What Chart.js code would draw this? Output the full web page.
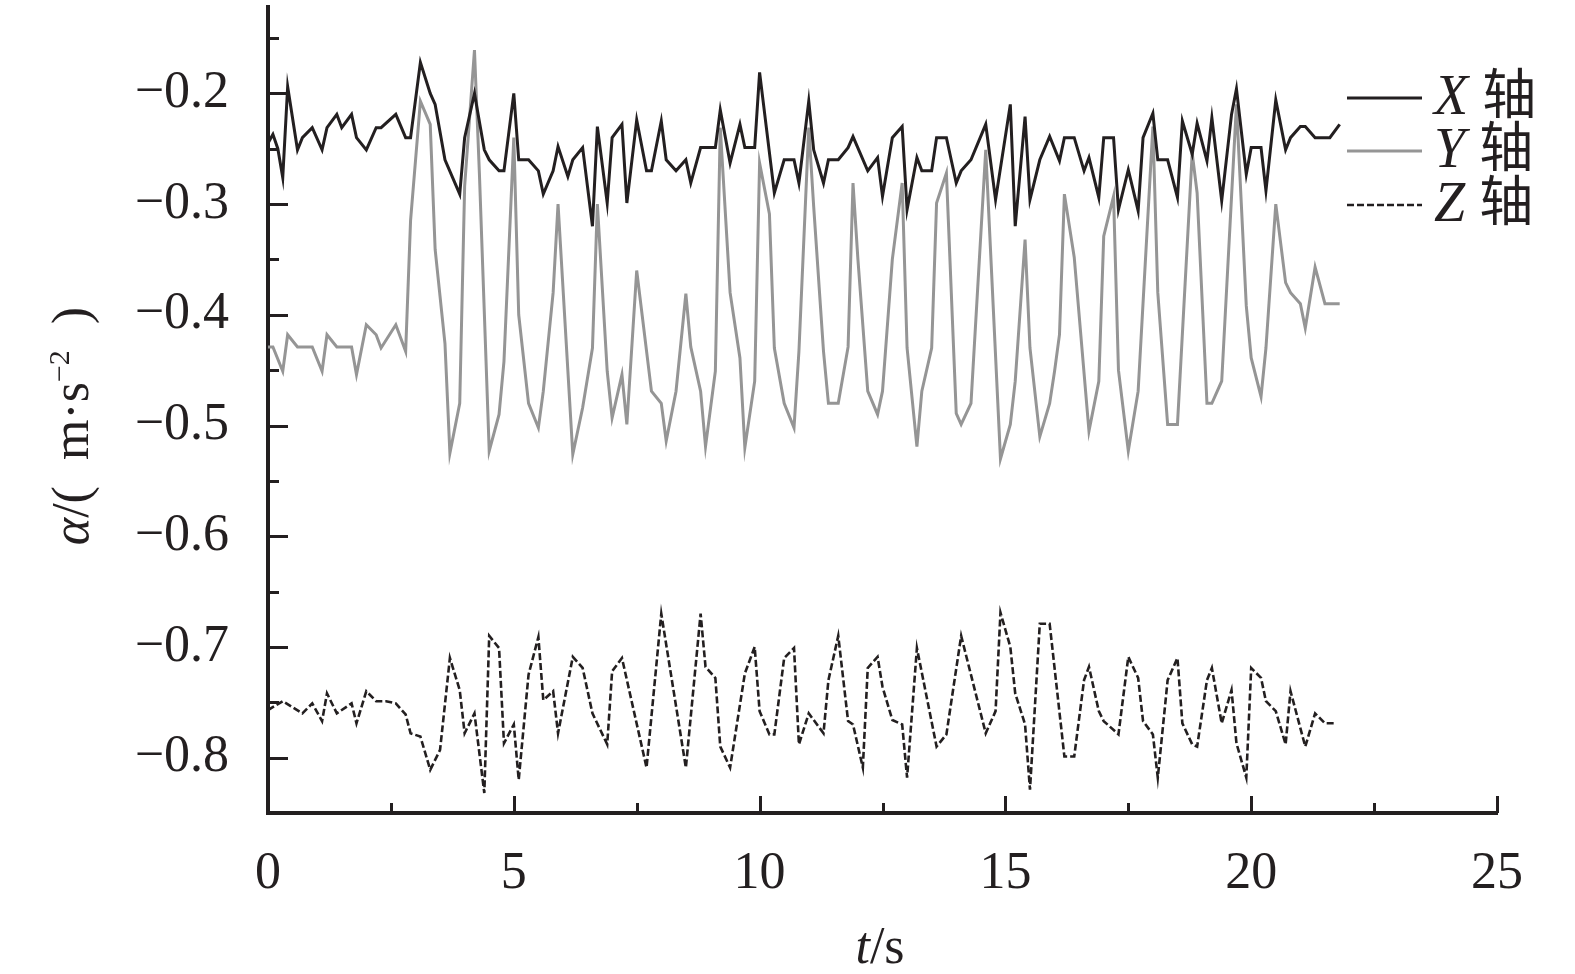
<!DOCTYPE html>
<html>
<head>
<meta charset="utf-8">
<script src="https://cdn.jsdelivr.net/npm/chart.js@4.4.1/dist/chart.umd.min.js"></script>
<style>
  html, body { margin: 0; padding: 0; background: #fff; }
</style>
</head>
<body>
<canvas id="chartAccel" width="1575" height="974"></canvas>
<script>
const ink = '#231f20';
const grey = '#959595';
const serif = "'Liberation Serif', 'DejaVu Serif', serif";

// [t (s), a (m/s^2)]
const xAxisData = [[0,-0.245],[0.1,-0.237],[0.2,-0.25],[0.3,-0.276],[0.4,-0.194],[0.6,-0.251],[0.7,-0.24],[0.9,-0.231],[1.1,-0.251],[1.2,-0.231],[1.4,-0.219],[1.5,-0.231],[1.7,-0.219],[1.8,-0.24],[2.0,-0.251],[2.2,-0.231],[2.3,-0.231],[2.6,-0.219],[2.8,-0.24],[2.9,-0.24],[3.1,-0.172],[3.3,-0.2],[3.4,-0.21],[3.6,-0.26],[3.9,-0.291],[4.0,-0.24],[4.2,-0.2],[4.4,-0.251],[4.5,-0.26],[4.7,-0.27],[4.8,-0.27],[5.0,-0.2],[5.1,-0.26],[5.3,-0.26],[5.5,-0.27],[5.6,-0.291],[5.8,-0.27],[5.9,-0.248],[6.1,-0.275],[6.2,-0.26],[6.4,-0.249],[6.6,-0.32],[6.7,-0.23],[6.9,-0.299],[7.0,-0.24],[7.2,-0.228],[7.3,-0.299],[7.5,-0.224],[7.7,-0.27],[7.8,-0.27],[8.0,-0.225],[8.1,-0.26],[8.3,-0.27],[8.5,-0.26],[8.6,-0.281],[8.8,-0.249],[9.1,-0.249],[9.2,-0.215],[9.4,-0.263],[9.6,-0.228],[9.7,-0.249],[9.9,-0.249],[10.0,-0.181],[10.3,-0.29],[10.5,-0.26],[10.7,-0.26],[10.8,-0.281],[11.0,-0.207],[11.1,-0.251],[11.3,-0.281],[11.4,-0.26],[11.6,-0.26],[11.8,-0.249],[11.9,-0.239],[12.2,-0.27],[12.4,-0.258],[12.5,-0.293],[12.7,-0.24],[12.9,-0.23],[13.0,-0.305],[13.2,-0.258],[13.3,-0.27],[13.5,-0.27],[13.6,-0.24],[13.8,-0.24],[14.0,-0.281],[14.1,-0.27],[14.3,-0.26],[14.6,-0.228],[14.8,-0.296],[15.1,-0.21],[15.2,-0.32],[15.4,-0.221],[15.5,-0.296],[15.7,-0.26],[15.9,-0.239],[16.1,-0.261],[16.2,-0.24],[16.4,-0.24],[16.6,-0.27],[16.7,-0.258],[16.9,-0.294],[17.0,-0.24],[17.2,-0.24],[17.3,-0.305],[17.5,-0.269],[17.7,-0.306],[17.8,-0.24],[18.0,-0.218],[18.1,-0.26],[18.3,-0.26],[18.5,-0.294],[18.6,-0.225],[18.8,-0.255],[18.9,-0.227],[19.1,-0.261],[19.2,-0.222],[19.4,-0.297],[19.6,-0.219],[19.7,-0.196],[19.9,-0.273],[20.0,-0.249],[20.2,-0.249],[20.3,-0.288],[20.5,-0.206],[20.7,-0.251],[20.8,-0.24],[21.0,-0.23],[21.1,-0.23],[21.3,-0.24],[21.6,-0.24],[21.8,-0.228]];

const yAxisData = [[0,-0.429],[0.1,-0.429],[0.3,-0.451],[0.4,-0.418],[0.6,-0.429],[0.9,-0.429],[1.1,-0.451],[1.2,-0.418],[1.4,-0.429],[1.7,-0.429],[1.8,-0.454],[2.0,-0.409],[2.2,-0.418],[2.3,-0.43],[2.6,-0.409],[2.8,-0.433],[2.9,-0.315],[3.1,-0.207],[3.3,-0.228],[3.4,-0.341],[3.6,-0.426],[3.7,-0.525],[3.9,-0.48],[4.0,-0.284],[4.2,-0.161],[4.3,-0.272],[4.5,-0.523],[4.7,-0.49],[4.8,-0.442],[5.0,-0.24],[5.1,-0.4],[5.3,-0.48],[5.5,-0.502],[5.6,-0.469],[5.8,-0.38],[5.9,-0.3],[6.2,-0.526],[6.4,-0.484],[6.6,-0.43],[6.7,-0.3],[6.9,-0.451],[7.0,-0.493],[7.2,-0.454],[7.3,-0.499],[7.5,-0.36],[7.8,-0.469],[8.0,-0.48],[8.1,-0.514],[8.3,-0.469],[8.5,-0.381],[8.6,-0.429],[8.8,-0.469],[8.9,-0.519],[9.1,-0.451],[9.2,-0.231],[9.4,-0.38],[9.6,-0.439],[9.7,-0.52],[9.9,-0.46],[10.0,-0.263],[10.2,-0.309],[10.3,-0.43],[10.5,-0.48],[10.7,-0.502],[10.8,-0.433],[11.0,-0.231],[11.1,-0.302],[11.3,-0.433],[11.4,-0.48],[11.6,-0.48],[11.8,-0.429],[11.9,-0.281],[12.0,-0.35],[12.2,-0.469],[12.4,-0.49],[12.5,-0.469],[12.7,-0.35],[12.9,-0.281],[13.0,-0.43],[13.2,-0.519],[13.3,-0.469],[13.5,-0.43],[13.6,-0.299],[13.8,-0.272],[14.0,-0.489],[14.1,-0.499],[14.3,-0.48],[14.6,-0.251],[14.9,-0.53],[15.1,-0.499],[15.2,-0.46],[15.4,-0.332],[15.5,-0.43],[15.7,-0.51],[15.9,-0.48],[16.0,-0.451],[16.1,-0.418],[16.2,-0.291],[16.4,-0.348],[16.7,-0.505],[16.9,-0.46],[17.0,-0.329],[17.2,-0.293],[17.3,-0.45],[17.5,-0.523],[17.7,-0.469],[18.0,-0.23],[18.1,-0.38],[18.3,-0.499],[18.5,-0.499],[18.8,-0.254],[18.9,-0.29],[19.1,-0.48],[19.2,-0.48],[19.4,-0.46],[19.7,-0.21],[19.9,-0.392],[20.0,-0.439],[20.2,-0.474],[20.3,-0.43],[20.5,-0.3],[20.7,-0.371],[20.8,-0.38],[21.0,-0.39],[21.1,-0.412],[21.3,-0.357],[21.5,-0.39],[21.8,-0.39]];

const zAxisData = [[0,-0.757],[0.3,-0.749],[0.7,-0.76],[0.9,-0.751],[1.1,-0.767],[1.2,-0.742],[1.4,-0.76],[1.7,-0.751],[1.8,-0.769],[2.0,-0.74],[2.2,-0.749],[2.4,-0.749],[2.6,-0.751],[2.8,-0.761],[2.9,-0.778],[3.1,-0.781],[3.3,-0.811],[3.5,-0.793],[3.7,-0.71],[3.9,-0.739],[4.0,-0.778],[4.2,-0.76],[4.4,-0.832],[4.5,-0.69],[4.7,-0.701],[4.8,-0.787],[5.0,-0.77],[5.1,-0.82],[5.3,-0.725],[5.5,-0.691],[5.6,-0.748],[5.8,-0.74],[5.9,-0.778],[6.2,-0.709],[6.4,-0.719],[6.6,-0.76],[6.9,-0.788],[7.0,-0.722],[7.2,-0.71],[7.7,-0.809],[8.0,-0.67],[8.5,-0.809],[8.8,-0.67],[8.9,-0.718],[9.1,-0.728],[9.2,-0.79],[9.4,-0.809],[9.7,-0.724],[9.9,-0.7],[10.0,-0.758],[10.2,-0.779],[10.3,-0.779],[10.5,-0.71],[10.7,-0.701],[10.8,-0.788],[11.0,-0.76],[11.3,-0.778],[11.4,-0.73],[11.6,-0.69],[11.8,-0.767],[11.9,-0.77],[12.1,-0.809],[12.2,-0.719],[12.4,-0.709],[12.5,-0.736],[12.7,-0.766],[12.9,-0.77],[13.0,-0.818],[13.2,-0.701],[13.6,-0.79],[13.8,-0.779],[14.1,-0.69],[14.6,-0.778],[14.8,-0.758],[14.9,-0.669],[15.1,-0.7],[15.2,-0.742],[15.4,-0.77],[15.5,-0.829],[15.7,-0.679],[15.9,-0.679],[16.2,-0.799],[16.4,-0.799],[16.6,-0.73],[16.7,-0.718],[16.9,-0.758],[17.0,-0.767],[17.3,-0.779],[17.5,-0.709],[17.7,-0.728],[17.8,-0.767],[18.0,-0.779],[18.1,-0.818],[18.3,-0.73],[18.5,-0.71],[18.6,-0.769],[18.8,-0.788],[18.9,-0.79],[19.1,-0.73],[19.2,-0.719],[19.4,-0.769],[19.6,-0.739],[19.7,-0.787],[19.9,-0.818],[20.0,-0.719],[20.2,-0.728],[20.3,-0.749],[20.5,-0.758],[20.7,-0.788],[20.8,-0.74],[21.1,-0.79],[21.3,-0.76],[21.5,-0.769],[21.7,-0.769]];

const seriesNames = ['X', 'Y', 'Z'];
const yLabelTicks = [-0.8, -0.7, -0.6, -0.5, -0.4, -0.3, -0.2];
const yMarkTicks = [-0.8, -0.75, -0.7, -0.65, -0.6, -0.55, -0.5, -0.45, -0.4, -0.35, -0.3, -0.25, -0.2, -0.15];
const xMarkTicks = [2.5, 5, 7.5, 10, 12.5, 15, 17.5, 20, 22.5, 25];

const toPoints = rows => rows.map(([t, a]) => ({ x: t, y: a }));

// inward tick marks, axis titles and the legend drawn by hand
const axisDecor = {
    id: 'axisDecor',
    afterDraw(chart) {
        const { ctx, chartArea: area, scales: { x, y } } = chart;
        ctx.save();
        ctx.strokeStyle = ink;
        ctx.lineWidth = 3;
        ctx.beginPath();
        xMarkTicks.forEach(v => {
            const px = Math.round(x.getPixelForValue(v)) + 0.5;
            const len = v % 5 === 0 ? 17 : 10;
            ctx.moveTo(px, area.bottom);
            ctx.lineTo(px, area.bottom - len);
        });
        yMarkTicks.forEach(v => {
            const py = Math.round(y.getPixelForValue(v)) + 0.5;
            const len = Math.abs(Math.round(v * 100)) % 10 === 0 ? 20 : 11;
            ctx.moveTo(area.left, py);
            ctx.lineTo(area.left + len, py);
        });
        ctx.stroke();

        ctx.fillStyle = ink;
        ctx.textBaseline = 'alphabetic';

        // x title: t/s
        drawRun(ctx, [['italic 52px ' + serif, 't'], ['52px ' + serif, '/s']], 880, 963, 'center');

        // y title, rotated
        ctx.save();
        ctx.translate(88, 426);
        ctx.rotate(-Math.PI / 2);
        drawRun(ctx, [
            ['italic 52px ' + serif, 'α'],
            ['52px ' + serif, '/(  m·s'],
            ['30px ' + serif, '−2', -19],
            ['52px ' + serif, '  )']
        ], 0, 0, 'center');
        ctx.restore();

        // legend
        const rowsY = [98, 151, 205];
        chart.data.datasets.forEach((ds, i) => {
            const ly = rowsY[i];
            ctx.save();
            ctx.strokeStyle = ds.borderColor;
            ctx.lineWidth = ds.borderWidth;
            ctx.setLineDash(ds.borderDash || []);
            ctx.beginPath();
            ctx.moveTo(1347, ly);
            ctx.lineTo(1422, ly);
            ctx.stroke();
            ctx.restore();
            drawRun(ctx, [
                ['italic 56px ' + serif, seriesNames[i]],
                ['56px ' + serif, ' '],
                ["54px 'Noto Sans CJK SC'", '轴']
            ], 1434, ly + 16, 'left');
        });
        ctx.restore();
    }
};

function drawRun(ctx, parts, x, y, align) {
    let total = 0;
    parts.forEach(p => { ctx.font = p[0]; total += ctx.measureText(p[1]).width; });
    let cx = align === 'center' ? x - total / 2 : x;
    parts.forEach(p => {
        ctx.font = p[0];
        ctx.textAlign = 'left';
        ctx.fillText(p[1], cx, y + (p[2] || 0));
        cx += ctx.measureText(p[1]).width;
    });
}

const ctx = document.getElementById('chartAccel').getContext('2d');
new Chart(ctx, {
    type: 'line',
    data: {
        datasets: [{
            label: 'X 轴',
            data: toPoints(xAxisData),
            borderColor: ink,
            borderWidth: 3,
            pointRadius: 0
        }, {
            label: 'Y 轴',
            data: toPoints(yAxisData),
            borderColor: grey,
            borderWidth: 3,
            pointRadius: 0
        }, {
            label: 'Z 轴',
            data: toPoints(zAxisData),
            borderColor: ink,
            borderWidth: 2.6,
            borderDash: [7, 3],
            pointRadius: 0
        }]
    },
    options: {
        responsive: false,
        animation: false,
        devicePixelRatio: 1,
        layout: { padding: { left: 0, top: 7, right: 78, bottom: 0 } },
        plugins: {
            legend: { display: false },
            tooltip: { enabled: false }
        },
        scales: {
            x: {
                type: 'linear',
                min: 0,
                max: 25,
                ticks: {
                    stepSize: 5,
                    color: ink,
                    padding: 30,
                    font: { family: serif, size: 52 }
                },
                grid: { drawOnChartArea: false, drawTicks: false },
                border: { color: ink, width: 4 },
                afterFit: s => {
                    s.height = 161;
                    s.paddingLeft = 0;
                    s.paddingRight = 0;
                }
            },
            y: {
                type: 'linear',
                min: -0.85,
                max: -0.122,
                afterBuildTicks: s => { s.ticks = yLabelTicks.map(v => ({ value: v })); },
                ticks: {
                    color: ink,
                    padding: 39,
                    font: { family: serif, size: 52 },
                    callback: v => '−' + Math.abs(v).toFixed(1)
                },
                grid: { drawOnChartArea: false, drawTicks: false },
                border: { color: ink, width: 4 },
                afterFit: s => {
                    s.width = 268;
                    s.paddingTop = 0;
                    s.paddingBottom = 0;
                }
            }
        }
    },
    plugins: [axisDecor]
});
</script>
</body>
</html>
